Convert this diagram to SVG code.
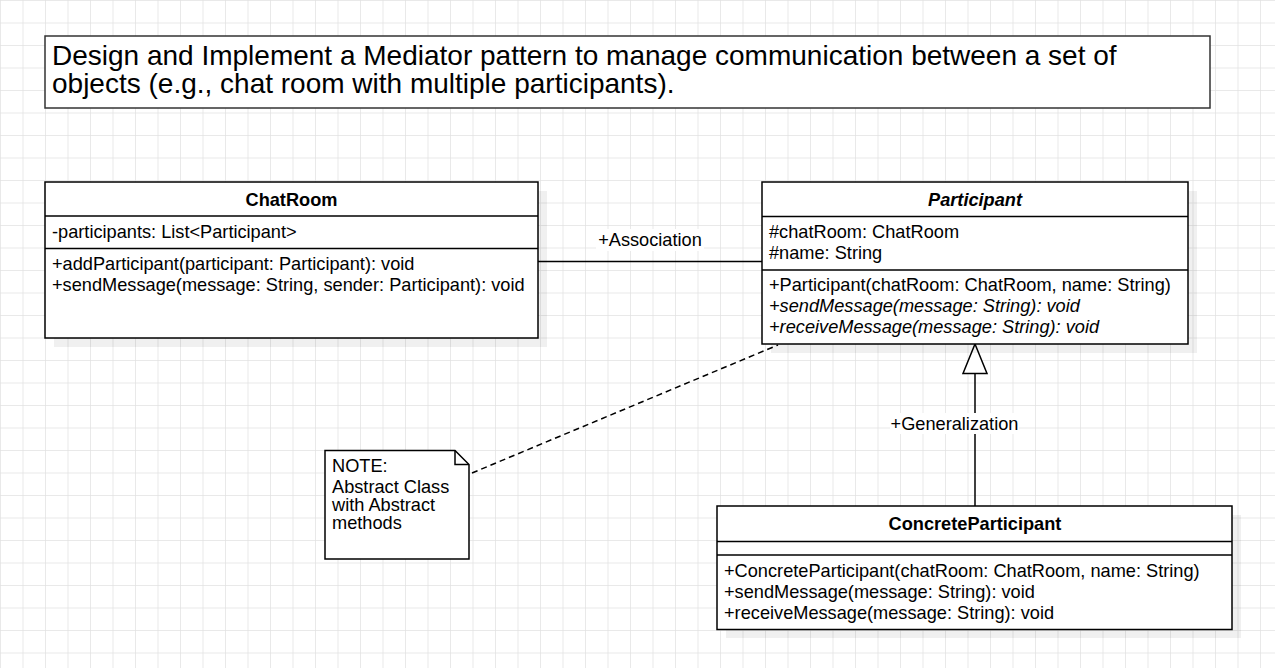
<svg xmlns="http://www.w3.org/2000/svg" width="1275" height="668" viewBox="0 0 1275 668">
<defs>
<pattern id="grid" width="22.5" height="22.5" patternUnits="userSpaceOnUse">
<path d="M0 0H22.5M0 0V22.5" fill="none" stroke="#e2e2e2" stroke-width="1.5"/>
</pattern>
</defs>
<style>
text{font-family:"Liberation Sans",Arial,sans-serif;font-size:18.2px;fill:#000}
.box{fill:#fff;stroke:#000;stroke-width:1.5}
.shadow{fill:#000;fill-opacity:0.06}
.sep{stroke:#000;stroke-width:1.5}
.b{font-weight:bold}
.i{font-style:italic}
.mid{text-anchor:middle}
.edge{fill:none;stroke:#000;stroke-width:1.5}
.title{font-size:28px}
</style>
<rect width="1275" height="668" fill="#fff"/>
<rect width="1275" height="668" fill="url(#grid)"/>

<g id="title">
<rect x="45" y="36" width="1165" height="72" fill="#fff" stroke="#333" stroke-width="1.5"/>
<text class="title" x="52" y="65">Design and Implement a Mediator pattern to manage communication between a set of</text>
<text class="title" x="52" y="93">objects (e.g., chat room with multiple participants).</text>
</g>

<g id="connectors">
<line class="edge" x1="538" y1="261.5" x2="762" y2="261.5"/>
<rect x="596" y="229" width="108" height="22" fill="#fff"/>
<text class="mid" x="650" y="246">+Association</text>
<line class="edge" x1="975" y1="506" x2="975" y2="373.5"/>
<polygon points="975,344 987,373.5 963,373.5" fill="#fff" stroke="#000" stroke-width="1.5"/>
<rect x="890" y="413" width="129" height="21" fill="#fff"/>
<text class="mid" x="954.5" y="430">+Generalization</text>
<line x1="472" y1="473" x2="778" y2="345" stroke="#000" stroke-width="1.5" stroke-dasharray="6 4"/>
</g>

<g id="chatroom">
<rect class="shadow" x="54" y="191" width="493" height="156"/>
<rect class="box" x="45" y="182" width="493" height="156"/>
<line class="sep" x1="45" y1="216" x2="538" y2="216"/>
<line class="sep" x1="45" y1="248.5" x2="538" y2="248.5"/>
<text class="b mid" x="291.5" y="206">ChatRoom</text>
<text x="52" y="238">-participants: List&lt;Participant&gt;</text>
<text x="52" y="270">+addParticipant(participant: Participant): void</text>
<text x="52" y="291">+sendMessage(message: String, sender: Participant): void</text>
</g>

<g id="participant">
<rect class="shadow" x="771" y="191" width="426" height="162"/>
<rect class="box" x="762" y="182" width="426" height="162"/>
<line class="sep" x1="762" y1="216.5" x2="1188" y2="216.5"/>
<line class="sep" x1="762" y1="270" x2="1188" y2="270"/>
<text class="b i mid" x="975" y="206">Participant</text>
<text x="769" y="238">#chatRoom: ChatRoom</text>
<text x="769" y="259">#name: String</text>
<text x="769" y="291">+Participant(chatRoom: ChatRoom, name: String)</text>
<text class="i" x="769" y="312">+sendMessage(message: String): void</text>
<text class="i" x="769" y="333">+receiveMessage(message: String): void</text>
</g>

<g id="concreteparticipant">
<rect class="shadow" x="726" y="515" width="515" height="123"/>
<rect class="box" x="717" y="506" width="515" height="123.5"/>
<line class="sep" x1="717" y1="541.5" x2="1232" y2="541.5"/>
<line class="sep" x1="717" y1="555" x2="1232" y2="555"/>
<text class="b mid" x="975" y="530">ConcreteParticipant</text>
<text x="724" y="577">+ConcreteParticipant(chatRoom: ChatRoom, name: String)</text>
<text x="724" y="598">+sendMessage(message: String): void</text>
<text x="724" y="619">+receiveMessage(message: String): void</text>
</g>

<g id="note">
<path d="M325 450.5H455L469 464.5V559H325Z" fill="#fff" stroke="#000" stroke-width="1.5"/>
<path d="M455 450.5V464.5H469" fill="none" stroke="#000" stroke-width="1.5"/>
<text x="332" y="472">NOTE:</text>
<text x="332" y="493">Abstract Class</text>
<text x="332" y="511">with Abstract</text>
<text x="332" y="528.5">methods</text>
</g>
</svg>
